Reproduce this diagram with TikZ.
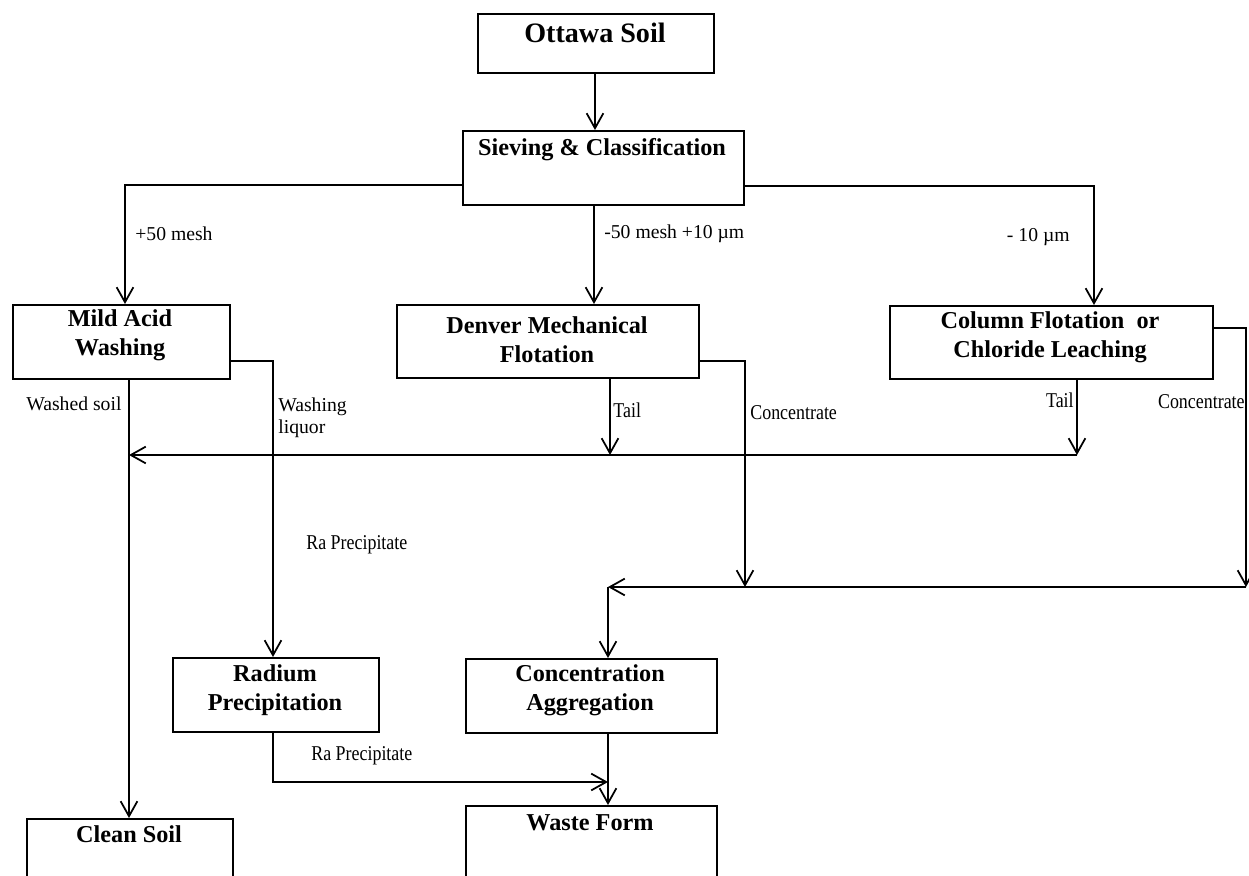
\documentclass[tikz,border=0pt]{standalone}
\usepackage{fontspec}
\setmainfont{Liberation Serif}
\newfontfamily\condfont[FakeStretch=0.85]{Liberation Serif}
\usetikzlibrary{arrows.meta}
\begin{document}
\begin{tikzpicture}[x=0.02cm,y=-0.02cm,
  box/.style={draw,line width=1pt,inner sep=0,anchor=north west},
  btext/.style={font=\fontsize{13.8}{16.5}\selectfont\bfseries,align=center,inner sep=0,anchor=base},
  lbl/.style={font=\fontsize{11.2}{12}\selectfont,inner sep=0,anchor=base west,align=left},
  clbl/.style={font=\condfont\fontsize{12}{13}\selectfont,inner sep=0,anchor=base west},
  conn/.style={line width=1pt},
  arr/.style={conn,-{Straight Barb[length=8.5pt,width=9.5pt]}}]
\useasboundingbox (0,0) rectangle (1249,876);
\clip (0,0) rectangle (1249,876);

% boxes
\node[box,minimum width=4.72cm,minimum height=1.18cm] (ottawa) at (477,13) {};
\node[box,minimum width=5.62cm,minimum height=1.48cm] (sieve) at (462,130) {};
\node[box,minimum width=4.34cm,minimum height=1.48cm] (acid) at (12,304) {};
\node[box,minimum width=6.04cm,minimum height=1.46cm] (denver) at (396,304) {};
\node[box,minimum width=6.46cm,minimum height=1.46cm] (column) at (889,305) {};
\node[box,minimum width=4.12cm,minimum height=1.48cm] (radium) at (172,657) {};
\node[box,minimum width=5.02cm,minimum height=1.48cm] (concagg) at (465,658) {};
\node[box,minimum width=5.02cm,minimum height=1.9cm] (waste) at (465,805) {};
\node[box,minimum width=4.12cm,minimum height=1.84cm] (clean) at (26,818) {};

% box texts (anchor base = baseline of the last line)
\node[btext,font=\fontsize{16}{18}\selectfont\bfseries] (ottawa-t) at (595,42) {Ottawa Soil};
\node[btext] (sieve-t) at (602,155) {Sieving \& Classification};
\node[btext] (acid-t) at (120,355) {Mild Acid\\Washing};
\node[btext] (denver-t) at (547,362) {Denver Mechanical\\Flotation};
\node[btext] (column-t) at (1050,357) {Column Flotation\ \ or\\Chloride Leaching};
\node[btext] (radium-t) at (275,710) {Radium\\Precipitation};
\node[btext] (concagg-t) at (590,710) {Concentration\\Aggregation};
\node[btext] (waste-t) at (590,830) {Waste Form};
\node[btext] (clean-t) at (129,842) {Clean Soil};

% labels
\node[lbl] (l50) at (135,240) {+50 mesh};
\node[lbl] (l5010) at (604,238) {-50 mesh +10 µm};
\node[lbl,anchor=base east] (l10) at (1070,241) {- 10 µm};
\node[lbl] (lwashed) at (26,410) {Washed soil};
\node[lbl,anchor=base west] (lliquor) at (278,433) {Washing\\liquor};
\node[clbl] (ltail1) at (613,417) {Tail};
\node[clbl] (lconc1) at (750,419) {Concentrate};
\node[clbl,anchor=base east] (ltail2) at (1074,407) {Tail};
\node[clbl,anchor=base east] (lconc2) at (1245,408) {Concentrate};
\node[clbl] (lra1) at (306,549) {Ra Precipitate};
\node[clbl] (lra2) at (311,760) {Ra Precipitate};

% junction coordinates
\coordinate (dc) at (745,587);
\coordinate (dt) at (610,455);
\coordinate (tailbus) at (1077,455);
\coordinate (tailend) at (129,455);
\coordinate (concbus) at (1246,587);
\coordinate (concend) at (608,587);
\coordinate (rajoin) at (608,782);

% connectors
\draw[arr] (ottawa.south -| 595,0) -- (sieve.north -| 595,0);
\draw[arr] (sieve.west |- 0,185) -| (acid.north -| 125,0);
\draw[arr] (sieve.south -| 594,0) -- (denver.north -| 594,0);
\draw[arr] (sieve.east |- 0,186) -| (column.north -| 1094,0);
\draw[arr] (acid.east |- 0,361) -| (radium.north -| 273,0);
\draw[arr] (acid.south -| 129,0) -- (clean.north -| 129,0);
\draw[arr] (denver.east |- 0,361) -| (dc);
\draw[arr] (denver.south -| 610,0) -- (dt);
\draw[arr] (column.south -| 1077,0) -- (tailbus);
\draw[arr] (tailbus) -- (tailend);
\draw[arr] (column.east |- 0,328) -| (concbus);
\draw[arr] (concbus) -- (concend);
\draw[arr] (concend) -- (concagg.north -| 608,0);
\draw[arr] (concagg.south -| 608,0) -- (waste.north -| 608,0);
\draw[arr] (radium.south -| 273,0) |- (rajoin);
\end{tikzpicture}
\end{document}
